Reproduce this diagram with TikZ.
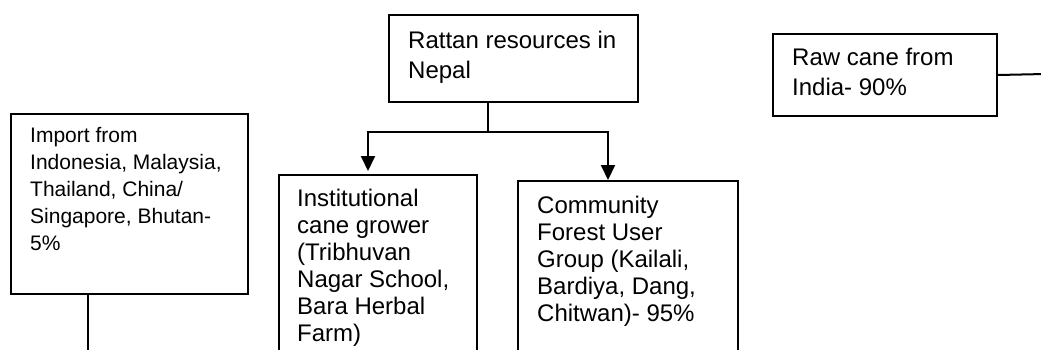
\documentclass[tikz,border=0pt]{standalone}
\usepackage{fontspec}
\setmainfont{Liberation Sans}
\usetikzlibrary{arrows.meta,calc}
\tikzset{
 frame/.style={draw, line width=2pt, inner sep=0pt, anchor=north west},
 txt/.style={inner sep=0pt, anchor=north west, align=left},
 big/.style={font=\fontsize{24}{30}\selectfont},
 mid/.style={font=\fontsize{24}{27}\selectfont},
 small/.style={font=\fontsize{21}{27}\selectfont},
 link/.style={line width=2pt},
 arr/.style={line width=2pt, -{Triangle[width=14pt,length=15pt]}}
}
\begin{document}
\begin{tikzpicture}[x=1pt,y=-1pt]
\useasboundingbox (0,0) rectangle (1041,349);
\clip (0,0) rectangle (1041,349);
% frames
\node[frame, minimum width=249pt, minimum height=87pt] (rattan) at (388,14) {};
\node[frame, minimum width=224pt, minimum height=82pt] (raw) at (772,33) {};
\node[frame, minimum width=237pt, minimum height=180pt] (import) at (10,113) {};
\node[frame, minimum width=198pt, minimum height=250pt] (inst) at (278,174) {};
\node[frame, minimum width=220pt, minimum height=250pt] (comm) at (517,180) {};
% texts
\node[txt, big] (rattantxt) at (408,27) {\strut Rattan resources in\\Nepal};
\node[txt, big] (rawtxt) at (792,44) {\strut Raw cane from\\India- 90\%};
\node[txt, small] (importtxt) at (30,123.1) {\strut Import from\\Indonesia, Malaysia,\\Thailand, China/\\Singapore, Bhutan-\\5\%};
\node[txt, mid] (insttxt) at (297,187.1) {\strut Institutional\\cane grower\\(Tribhuvan\\Nagar School,\\Bara Herbal\\Farm)};
\node[txt, mid] (commtxt) at (537,194.1) {\strut Community\\Forest User\\Group (Kailali,\\Bardiya, Dang,\\Chitwan)- 95\%};
% connectors
\coordinate (j) at (488,132);
\coordinate (tl) at (368,171);
\coordinate (tr) at (608,180);
\draw[link] (rattan.south -| j) -- (j);
\draw[arr] (j) -| (tl);
\draw[arr] (j) -| (tr);
\coordinate (rawend) at (1045,74);
\draw[link] (raw.east) -- (rawend);
\coordinate (impend) at (88,352);
\draw[link] (import.south -| impend) -- (impend);
\end{tikzpicture}
\end{document}
